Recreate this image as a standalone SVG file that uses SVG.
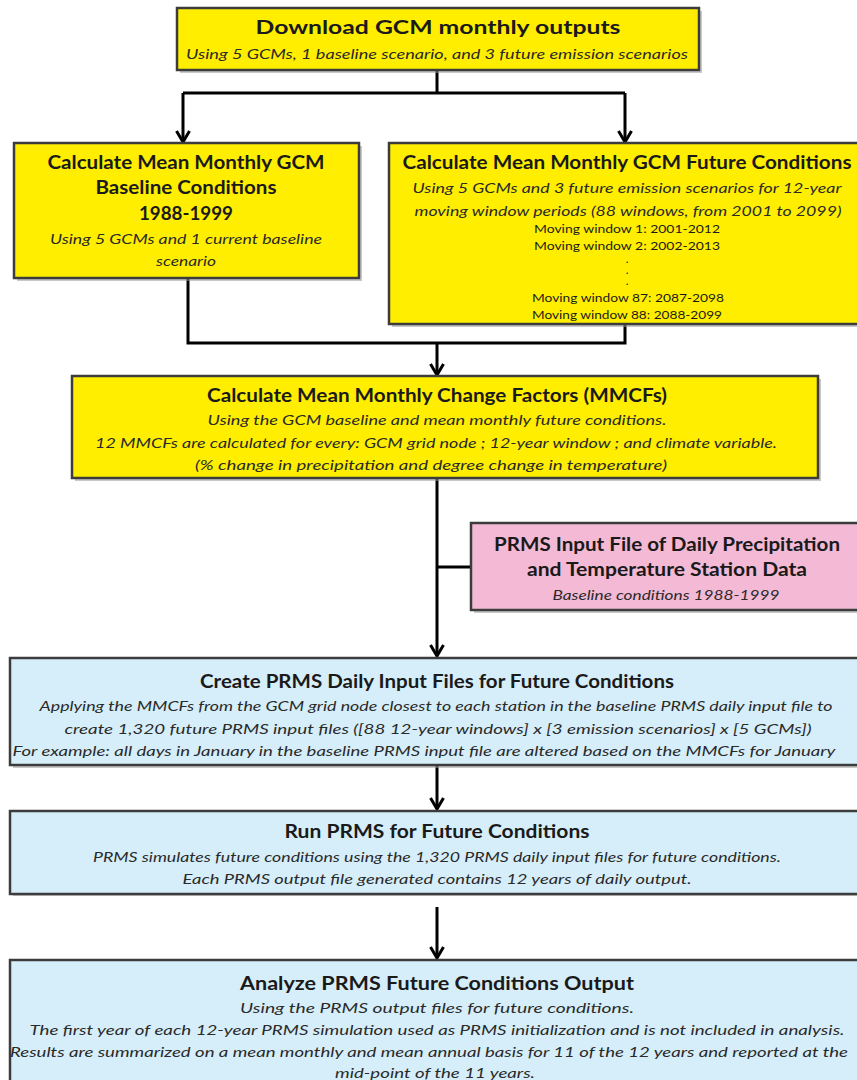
<svg xmlns="http://www.w3.org/2000/svg" width="857" height="1080" viewBox="0 0 857 1080">
<defs>
<style>
.box{stroke:#3c3c3c;stroke-width:2.5}
.y{fill:#FFEE00}
.p{fill:#F3B9D5}
.b{fill:#D6EEF9}
.sh{fill:#9a9a9a;opacity:0.55}
text{font-family:Lato,"Open Sans","Liberation Sans",sans-serif;fill:#1a1a1a;text-anchor:middle}
.t{font-weight:bold;font-size:18px}
.i{font-style:italic;font-size:14px;fill:#2a2a2a}
.s{font-size:11.5px}
.c{fill:none;stroke:#000;stroke-width:3}
</style>
<marker id="ah" viewBox="0 0 16 16" refX="14" refY="8" markerWidth="16" markerHeight="16" markerUnits="userSpaceOnUse" orient="auto">
<path d="M3,1.5 L14,8 L3,14.5" fill="none" stroke="#000" stroke-width="3"/>
</marker>
</defs>
<rect width="857" height="1080" fill="#fff"/>

<g id="connectors">
<path class="c" d="M437,70 V93 M183,93 H625"/>
<path class="c" d="M183,93 V142" marker-end="url(#ah)"/>
<path class="c" d="M625,93 V142" marker-end="url(#ah)"/>
<path class="c" d="M188,278 V343 H625 V324"/>
<path class="c" d="M437,343 V375" marker-end="url(#ah)"/>
<path class="c" d="M437,478 V656" marker-end="url(#ah)"/>
<path class="c" d="M437,567 H471"/>
<path class="c" d="M437,765 V809" marker-end="url(#ah)"/>
<path class="c" d="M437,907 V958" marker-end="url(#ah)"/>
</g>

<g id="n1">
<rect class="sh" x="180" y="11" width="522" height="62"/>
<rect class="box y" x="177" y="8" width="522" height="62"/>
<text class="t" x="438" y="34" textLength="365" lengthAdjust="spacingAndGlyphs">Download GCM monthly outputs</text>
<text class="i" x="437" y="59" textLength="502" lengthAdjust="spacingAndGlyphs">Using 5 GCMs, 1 baseline scenario, and 3 future emission scenarios</text>
</g>

<g id="n2">
<rect class="sh" x="17" y="146" width="345" height="135"/>
<rect class="box y" x="14" y="143" width="345" height="135"/>
<text class="t" x="186" y="169" textLength="277" lengthAdjust="spacingAndGlyphs">Calculate Mean Monthly GCM</text>
<text class="t" x="186" y="194" textLength="181" lengthAdjust="spacingAndGlyphs">Baseline Conditions</text>
<text class="t" x="186" y="220" textLength="94" lengthAdjust="spacingAndGlyphs">1988-1999</text>
<text class="i" x="186" y="244" textLength="272" lengthAdjust="spacingAndGlyphs">Using 5 GCMs and 1 current baseline</text>
<text class="i" x="186" y="266" textLength="60" lengthAdjust="spacingAndGlyphs">scenario</text>
</g>

<g id="n3">
<rect class="sh" x="392" y="146" width="470" height="181"/>
<rect class="box y" x="389" y="143" width="470" height="181"/>
<text class="t" x="627" y="169" textLength="449" lengthAdjust="spacingAndGlyphs">Calculate Mean Monthly GCM Future Conditions</text>
<text class="i" x="627" y="193" textLength="429" lengthAdjust="spacingAndGlyphs">Using 5 GCMs and 3 future emission scenarios for 12-year</text>
<text class="i" x="628" y="216" textLength="427" lengthAdjust="spacingAndGlyphs">moving window periods (88 windows, from 2001 to 2099)</text>
<text class="s" x="627" y="233" textLength="186" lengthAdjust="spacingAndGlyphs">Moving window  1: 2001-2012</text>
<text class="s" x="627" y="250" textLength="186" lengthAdjust="spacingAndGlyphs">Moving window  2: 2002-2013</text>
<text class="s" x="627" y="263">.</text>
<text class="s" x="627" y="274">.</text>
<text class="s" x="627" y="285">.</text>
<text class="s" x="628" y="302" textLength="192" lengthAdjust="spacingAndGlyphs">Moving window  87: 2087-2098</text>
<text class="s" x="627" y="319" textLength="190" lengthAdjust="spacingAndGlyphs">Moving window  88: 2088-2099</text>
</g>

<g id="n4">
<rect class="sh" x="75" y="379" width="746" height="102"/>
<rect class="box y" x="72" y="376" width="746" height="102"/>
<text class="t" x="437" y="402" textLength="460" lengthAdjust="spacingAndGlyphs">Calculate Mean Monthly Change Factors (MMCFs)</text>
<text class="i" x="437" y="425" textLength="459" lengthAdjust="spacingAndGlyphs">Using the GCM baseline and mean monthly future conditions.</text>
<text class="i" x="436" y="448" textLength="682" lengthAdjust="spacingAndGlyphs">12 MMCFs are calculated for  every: GCM grid node ; 12-year window ; and climate variable.</text>
<text class="i" x="431" y="470" textLength="472" lengthAdjust="spacingAndGlyphs">(% change in precipitation and degree change in temperature)</text>
</g>

<g id="n5">
<rect class="sh" x="474" y="526" width="390" height="87"/>
<rect class="box p" x="471" y="523" width="390" height="87"/>
<text class="t" x="667" y="551" textLength="346" lengthAdjust="spacingAndGlyphs">PRMS Input File of Daily Precipitation</text>
<text class="t" x="667" y="576" textLength="280" lengthAdjust="spacingAndGlyphs">and Temperature Station Data</text>
<text class="i" x="666" y="600" textLength="227" lengthAdjust="spacingAndGlyphs">Baseline conditions 1988-1999</text>
</g>

<g id="n6">
<rect class="sh" x="13" y="661" width="850" height="107"/>
<rect class="box b" x="10" y="658" width="850" height="107"/>
<text class="t" x="437" y="688" textLength="474" lengthAdjust="spacingAndGlyphs">Create PRMS Daily Input Files for Future Conditions</text>
<text class="i" x="436" y="711" textLength="793" lengthAdjust="spacingAndGlyphs">Applying the MMCFs from the GCM grid node closest to each station in the baseline PRMS daily input file to</text>
<text class="i" x="438" y="734" textLength="747" lengthAdjust="spacingAndGlyphs">create  1,320 future PRMS input files ([88 12-year windows] x [3 emission scenarios] x [5 GCMs])</text>
<text class="i" x="424" y="756" textLength="823" lengthAdjust="spacingAndGlyphs">For example: all days in January in the baseline PRMS input file are altered based on the MMCFs for January</text>
</g>

<g id="n7">
<rect class="sh" x="13" y="814" width="850" height="82"/>
<rect class="box b" x="10" y="811" width="850" height="83"/>
<text class="t" x="437" y="838" textLength="305" lengthAdjust="spacingAndGlyphs">Run PRMS for Future Conditions</text>
<text class="i" x="437" y="862" textLength="688" lengthAdjust="spacingAndGlyphs">PRMS simulates future conditions using the 1,320 PRMS daily input files for future conditions.</text>
<text class="i" x="437" y="884" textLength="509" lengthAdjust="spacingAndGlyphs">Each PRMS output file generated contains 12 years of daily output.</text>
</g>

<g id="n8">
<rect class="sh" x="13" y="963" width="850" height="130"/>
<rect class="box b" x="10" y="960" width="850" height="130"/>
<text class="t" x="437" y="990" textLength="394" lengthAdjust="spacingAndGlyphs">Analyze PRMS Future Conditions Output</text>
<text class="i" x="437" y="1013" textLength="394" lengthAdjust="spacingAndGlyphs">Using the PRMS output files for future conditions.</text>
<text class="i" x="437" y="1035" textLength="815" lengthAdjust="spacingAndGlyphs">The first year of each 12-year PRMS simulation used as PRMS initialization and is not included in analysis.</text>
<text class="i" x="429" y="1057" textLength="838" lengthAdjust="spacingAndGlyphs">Results are summarized on a mean monthly and mean annual basis for 11 of the 12 years and reported at the</text>
<text class="i" x="435" y="1078" textLength="200" lengthAdjust="spacingAndGlyphs">mid-point of the 11 years.</text>
</g>
</svg>
